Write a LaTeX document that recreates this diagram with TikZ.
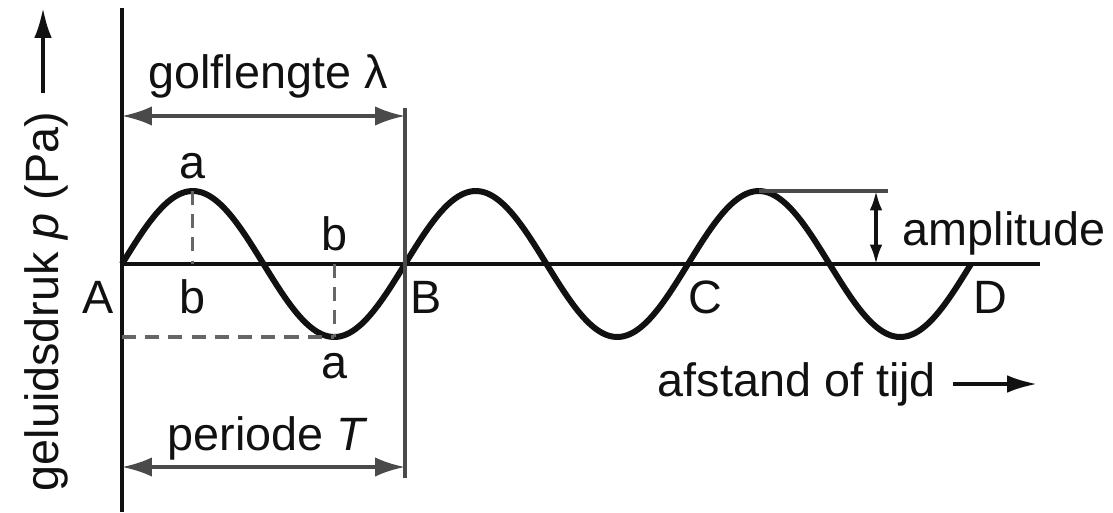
\documentclass[tikz,border=0pt]{standalone}
\usepackage{fontspec}
\setmainfont{Liberation Sans}
\usetikzlibrary{arrows.meta,positioning}
\definecolor{inkCol}{HTML}{111111}
\definecolor{dimCol}{HTML}{4A4A4A}
\definecolor{guideCol}{HTML}{666666}
\newcommand{\lblfont}{\fontsize{13.3}{15}\selectfont}
\tikzset{
  axisline/.style={line width=1.1pt, inkCol},
  wave/.style={line width=1.7pt, inkCol, line join=round},
  guide/.style={line width=0.9pt, guideCol, dash pattern=on 4pt off 2.6pt},
  dimline/.style={{Latex[length=8.5pt,width=5.5pt]}-{Latex[length=8.5pt,width=5.5pt]}, line width=1pt, dimCol},
  ampline/.style={{Latex[length=5.5pt,width=3.6pt]}-{Latex[length=5.5pt,width=3.6pt]}, line width=0.9pt, inkCol},
  pointer/.style={-{Latex[length=8.5pt,width=5pt]}, line width=1pt, inkCol},
  lbl/.style={font=\lblfont, text=inkCol, inner sep=0pt},
}
\begin{document}
\begin{tikzpicture}[x=0.01cm, y=-0.01cm]
  \useasboundingbox (0,0) rectangle (1113,512);
  \def\xA{122}\def\yO{264}\def\per{283}\def\amp{73}
  \pgfmathsetmacro{\xB}{\xA+\per}
  \pgfmathsetmacro{\xC}{\xA+2*\per}
  \pgfmathsetmacro{\xD}{\xA+3*\per}
  \pgfmathsetmacro{\xpk}{\xA+0.25*\per}
  \pgfmathsetmacro{\xtr}{\xA+0.75*\per}
  \pgfmathsetmacro{\xpkc}{\xA+2.25*\per}

  % key points
  \coordinate (A) at (\xA,\yO);
  \coordinate (B) at (\xB,\yO);
  \coordinate (C) at (\xC,\yO);
  \coordinate (D) at (\xD,\yO);
  \coordinate (pk) at (\xpk,\yO-\amp);
  \coordinate (pkA) at (\xpk,\yO);
  \coordinate (tr) at (\xtr,\yO+\amp);
  \coordinate (trA) at (\xtr,\yO);
  \coordinate (trL) at (\xA,\yO+\amp);
  \coordinate (pkC) at (\xpkc,\yO-\amp);

  % axes
  \coordinate (ytop) at (\xA,8);
  \coordinate (ybot) at (\xA,512);
  \coordinate (xend) at (1040,\yO);
  \draw[axisline] (ytop) -- (ybot);
  \draw[axisline] (A) -- (xend);

  % wave
  \draw[wave] plot[smooth, domain=\xA:\xD, samples=150] (\x, {\yO-\amp*sin((\x-\xA)/\per*360)});

  % guides
  \draw[guide] (pk) -- (pkA);
  \draw[guide] (trA) -- (tr);
  \draw[guide] (trL) -- (tr);

  % wavelength / period
  \coordinate (Btop) at (\xB,108);
  \coordinate (Bbot) at (\xB,478);
  \draw[line width=1.1pt, dimCol] (Btop) -- (Bbot);
  \coordinate (lamL) at (\xA,116);
  \coordinate (lamR) at (\xB,116);
  \draw[dimline] (lamL) -- (lamR);
  \node[lbl, anchor=base] (lam) at (268,88) {golflengte λ};
  \coordinate (perL) at (\xA,467);
  \coordinate (perR) at (\xB,467);
  \draw[dimline] (perL) -- (perR);
  \node[lbl, anchor=base] (perT) at (268,450) {periode \textit{T}};

  % point labels
  \node[lbl, anchor=base] (lA) at (98,313) {A};
  \node[lbl, anchor=base] (lB) at (426,313) {B};
  \node[lbl, anchor=base] (lC) at (705,313) {C};
  \node[lbl, anchor=base] (lD) at (990,313) {D};
  \node[lbl, anchor=base] (pka) at (\xpk,178) {a};
  \node[lbl, anchor=base] (pkb) at (\xpk,313) {b};
  \node[lbl, anchor=base] (trb) at (\xtr,250) {b};
  \node[lbl, anchor=base] (tra) at (\xtr,378) {a};

  % amplitude
  \coordinate (ampR) at (888,\yO-\amp);
  \draw[line width=1.1pt, dimCol] (pkC) -- (ampR);
  \coordinate (ampT) at (876,\yO-\amp);
  \coordinate (ampB) at (876,\yO);
  \draw[ampline] (ampT) -- (ampB);
  \node[lbl, anchor=base west] (amp) at (902,245) {amplitude};

  % axis titles
  \node[lbl, anchor=base west] (xlab) at (657,396) {afstand of tijd};
  \coordinate (xtail) at (953,384);
  \coordinate (xtip) at (1037,384);
  \draw[pointer] (xtail) -- (xtip);
  \node[lbl, rotate=90, anchor=base west] (ylab) at (58,492) {geluidsdruk \textit{p} (Pa)};
  \coordinate (ytail) at (43,93);
  \coordinate (yhead) at (43,8);
  \draw[pointer] (ytail) -- (yhead);
\end{tikzpicture}
\end{document}
